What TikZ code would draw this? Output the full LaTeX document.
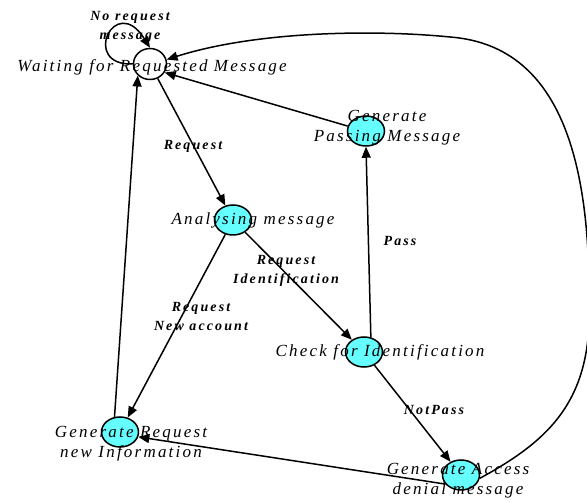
\documentclass[tikz,border=0pt]{standalone}
\usepackage{fontspec}
\newfontfamily\statefont[LetterSpace=13]{Liberation Serif}
\newfontfamily\edgefont[LetterSpace=15]{Liberation Serif}
\usepackage{tikz}
\usetikzlibrary{arrows.meta,shapes.geometric}
\definecolor{statefill}{HTML}{66FFFF}

\tikzset{
  state/.style={ellipse,draw,line width=1.5pt,fill=statefill,
    minimum width=37pt,minimum height=30pt,inner sep=0pt},
  idle/.style={state,fill=white,minimum width=33pt,minimum height=31pt},
  statetext/.style={align=center,font=\statefont\itshape\fontsize{17}{20}\selectfont},
  edgetext/.style={align=center,font=\edgefont\bfseries\itshape\fontsize{14}{19}\selectfont}
}

\begin{document}
\begin{tikzpicture}[x=1pt,y=-1pt,>={Triangle[length=11pt,width=9pt]},line width=1.5pt]
\useasboundingbox (0,0) rectangle (587,502);
% states
\node[idle] (wait) at (150,64) {};
\node[state] (passmsg) at (366,131) {};
\node[state] (analyse) at (233,220) {};
\node[state] (check) at (364,352) {};
\node[state] (genreq) at (120,432) {};
\node[state] (denial) at (461,475) {};
% state names
\node[statetext] (waittxt) at (152,67) {Waiting for Requested Message};
\node[statetext] (passtxt) at (387,128) {Generate\\Passing Message};
\node[statetext] (analysetxt) at (253,220) {Analysing message};
\node[statetext] (checktxt) at (380,352) {Check for Identification};
\node[statetext] (genreqtxt) at (131,444) {Generate Request\\new Information};
\node[statetext] (denialtxt) at (458,481) {Generate Access\\denial message};
% transition labels
\node[edgetext] (noreq) at (130,27) {No request\\message};
\node[edgetext] (reqlbl) at (193,146) {Request};
\node[edgetext] (reqid) at (286,271) {Request\\Identification};
\node[edgetext] (reqnew) at (201,317) {Request\\New account};
\node[edgetext] (passlbl) at (400,241) {Pass};
\node[edgetext] (notpass) at (434,410) {NotPass};
% transitions
\draw[->] (wait.west) .. controls (80,66) and (115,-8) .. (wait.north);
\draw[->] (wait) -- (analyse);
\draw[->] (analyse) -- (check);
\draw[->] (analyse) -- (genreq);
\draw[->] (genreq.110) -- (wait.south west);
\draw[->] (check.65) -- (passmsg.south);
\draw[->] (passmsg.165) -- (wait.-30);
\draw[->] (check) -- (denial);
\draw[->] (denial.210) -- (genreq.-15);
\draw[->] (denial.-10) .. controls (550,440) and (593,400) .. (589,300)
  .. controls (590,150) and (555,45) .. (450,37)
  .. controls (380,30) and (260,30) .. (wait.15);
\end{tikzpicture}
\end{document}
